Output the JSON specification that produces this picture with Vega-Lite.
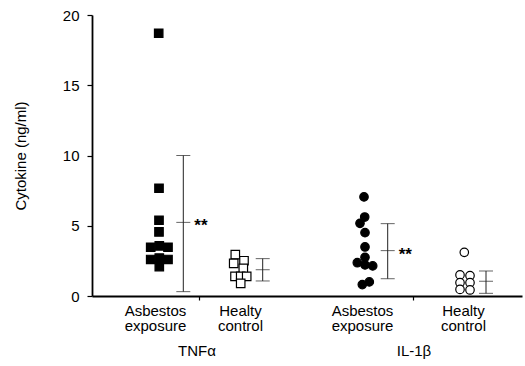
{
  "$schema": "https://vega.github.io/schema/vega-lite/v6.json",
  "width": 430,
  "height": 281,
  "autosize": {"type": "none"},
  "padding": {"left": 92, "top": 15, "right": 3, "bottom": 70},
  "background": "white",
  "config": {
    "view": {"stroke": null},
    "font": "Liberation Sans",
    "axis": {"grid": false, "domainColor": "black", "tickColor": "black", "labelColor": "black", "titleColor": "black", "labelFont": "Liberation Sans", "titleFont": "Liberation Sans"}
  },
  "datasets": {
    "pts": [
      {"g": "TNF_A", "x": 6.67, "v": 18.7},
      {"g": "TNF_A", "x": 6.7, "v": 7.67},
      {"g": "TNF_A", "x": 6.7, "v": 5.39},
      {"g": "TNF_A", "x": 6.7, "v": 4.56},
      {"g": "TNF_A", "x": 5.87, "v": 3.47},
      {"g": "TNF_A", "x": 6.73, "v": 3.57},
      {"g": "TNF_A", "x": 7.6, "v": 3.47},
      {"g": "TNF_A", "x": 5.87, "v": 2.6},
      {"g": "TNF_A", "x": 6.73, "v": 2.7},
      {"g": "TNF_A", "x": 7.6, "v": 2.6},
      {"g": "TNF_A", "x": 6.73, "v": 2.09},
      {"g": "TNF_C", "x": 14.33, "v": 2.94},
      {"g": "TNF_C", "x": 14.17, "v": 2.32},
      {"g": "TNF_C", "x": 15.2, "v": 2.51},
      {"g": "TNF_C", "x": 15.13, "v": 1.97},
      {"g": "TNF_C", "x": 14.3, "v": 1.4},
      {"g": "TNF_C", "x": 14.87, "v": 1.4},
      {"g": "TNF_C", "x": 15.47, "v": 1.4},
      {"g": "TNF_C", "x": 14.87, "v": 0.9},
      {"g": "IL_A", "x": 27.2, "v": 7.05},
      {"g": "IL_A", "x": 27.27, "v": 5.62},
      {"g": "IL_A", "x": 26.8, "v": 5.17},
      {"g": "IL_A", "x": 27.3, "v": 4.51},
      {"g": "IL_A", "x": 27.3, "v": 3.49},
      {"g": "IL_A", "x": 27.3, "v": 2.75},
      {"g": "IL_A", "x": 26.53, "v": 2.37},
      {"g": "IL_A", "x": 27.3, "v": 2.21},
      {"g": "IL_A", "x": 28.07, "v": 2.14},
      {"g": "IL_A", "x": 27.03, "v": 0.81},
      {"g": "IL_A", "x": 27.73, "v": 1.0},
      {"g": "IL_C", "x": 37.23, "v": 3.11},
      {"g": "IL_C", "x": 36.8, "v": 1.5},
      {"g": "IL_C", "x": 37.8, "v": 1.45},
      {"g": "IL_C", "x": 36.8, "v": 0.95},
      {"g": "IL_C", "x": 37.8, "v": 0.95},
      {"g": "IL_C", "x": 36.8, "v": 0.47},
      {"g": "IL_C", "x": 37.8, "v": 0.43}
    ],
    "bars": [
      {"g": "TNF_A", "x": 9.13, "lo": 0.31, "mean": 5.24, "hi": 10.0, "sig": "**"},
      {"g": "TNF_C", "x": 17.07, "lo": 1.07, "mean": 1.87, "hi": 2.66, "sig": ""},
      {"g": "IL_A", "x": 29.57, "lo": 1.23, "mean": 3.23, "hi": 5.15, "sig": "**"},
      {"g": "IL_C", "x": 39.4, "lo": 0.19, "mean": 1.05, "hi": 1.78, "sig": ""}
    ],
    "groups": [
      {"label": "TNFα", "x": 10.5},
      {"label": "IL-1β", "x": 32.2}
    ]
  },
  "layer": [
    {
      "data": {"name": "bars"},
      "mark": {"type": "rule", "color": "#222", "strokeWidth": 1},
      "encoding": {
        "x": {
          "field": "x", "type": "quantitative",
          "scale": {"domain": [0, 43], "nice": false, "zero": false},
          "axis": {
            "title": null,
            "values": [6.3, 10.7, 14.8, 27.0, 32.1, 37.1],
            "domainWidth": 1.8,
            "tickSize": 4,
            "tickWidth": 1.2,
            "tickOpacity": {"condition": {"test": "datum.value == 10.7 || datum.value == 32.1", "value": 1}, "value": 0},
            "labelExpr": "datum.value < 8 ? ['Asbestos', 'exposure'] : datum.value < 12 ? '' : datum.value < 20 ? ['Healty', 'control'] : datum.value < 30 ? ['Asbestos', 'exposure'] : datum.value < 35 ? '' : ['Healty', 'control']",
            "labelFontSize": 15,
            "labelLineHeight": 15.5,
            "labelPadding": 3,
            "labelFlush": false,
            "labelOverlap": false
          }
        },
        "y": {
          "field": "lo", "type": "quantitative",
          "scale": {"domain": [0, 20], "nice": false},
          "axis": {
            "title": "Cytokine (ng/ml)",
            "titleFontSize": 15,
            "titleFontWeight": "normal",
            "titlePadding": 34,
            "values": [0, 2.5, 5, 7.5, 10, 12.5, 15, 17.5, 20],
            "labelExpr": "datum.value % 5 == 0 ? datum.label : ''",
            "labelFontSize": 15,
            "labelPadding": 8,
            "tickSize": 5,
            "tickWidth": 1.2,
            "domainWidth": 1.8
          }
        },
        "y2": {"field": "hi"}
      }
    },
    {
      "data": {"name": "bars"},
      "mark": {"type": "tick", "orient": "horizontal", "size": 14, "thickness": 1, "color": "#222"},
      "encoding": {
        "x": {"field": "x", "type": "quantitative"},
        "y": {"field": "lo", "type": "quantitative"}
      }
    },
    {
      "data": {"name": "bars"},
      "mark": {"type": "tick", "orient": "horizontal", "size": 14, "thickness": 1, "color": "#222"},
      "encoding": {
        "x": {"field": "x", "type": "quantitative"},
        "y": {"field": "hi", "type": "quantitative"}
      }
    },
    {
      "data": {"name": "bars"},
      "mark": {"type": "tick", "orient": "horizontal", "size": 14, "thickness": 1, "color": "#222"},
      "encoding": {
        "x": {"field": "x", "type": "quantitative"},
        "y": {"field": "mean", "type": "quantitative"}
      }
    },
    {
      "data": {"name": "bars"},
      "mark": {"type": "text", "align": "left", "baseline": "middle", "dx": 11, "dy": 4, "fontSize": 17, "fontWeight": "bold", "color": "black"},
      "encoding": {
        "x": {"field": "x", "type": "quantitative"},
        "y": {"field": "mean", "type": "quantitative"},
        "text": {"field": "sig"}
      }
    },
    {
      "data": {"name": "pts"},
      "mark": {"type": "point", "filled": false, "size": 72, "strokeWidth": 1.2, "stroke": "black", "opacity": 1},
      "encoding": {
        "x": {"field": "x", "type": "quantitative"},
        "y": {"field": "v", "type": "quantitative"},
        "shape": {"field": "g", "type": "nominal", "scale": {"domain": ["TNF_A", "TNF_C", "IL_A", "IL_C"], "range": ["square", "square", "circle", "circle"]}, "legend": null},
        "fill": {"field": "g", "type": "nominal", "scale": {"domain": ["TNF_A", "TNF_C", "IL_A", "IL_C"], "range": ["black", "white", "black", "white"]}, "legend": null}
      }
    },
    {
      "data": {"name": "groups"},
      "mark": {"type": "text", "align": "center", "baseline": "middle", "fontSize": 15, "color": "black"},
      "encoding": {
        "x": {"field": "x", "type": "quantitative"},
        "y": {"datum": -3.91},
        "text": {"field": "label"}
      }
    }
  ]
}
